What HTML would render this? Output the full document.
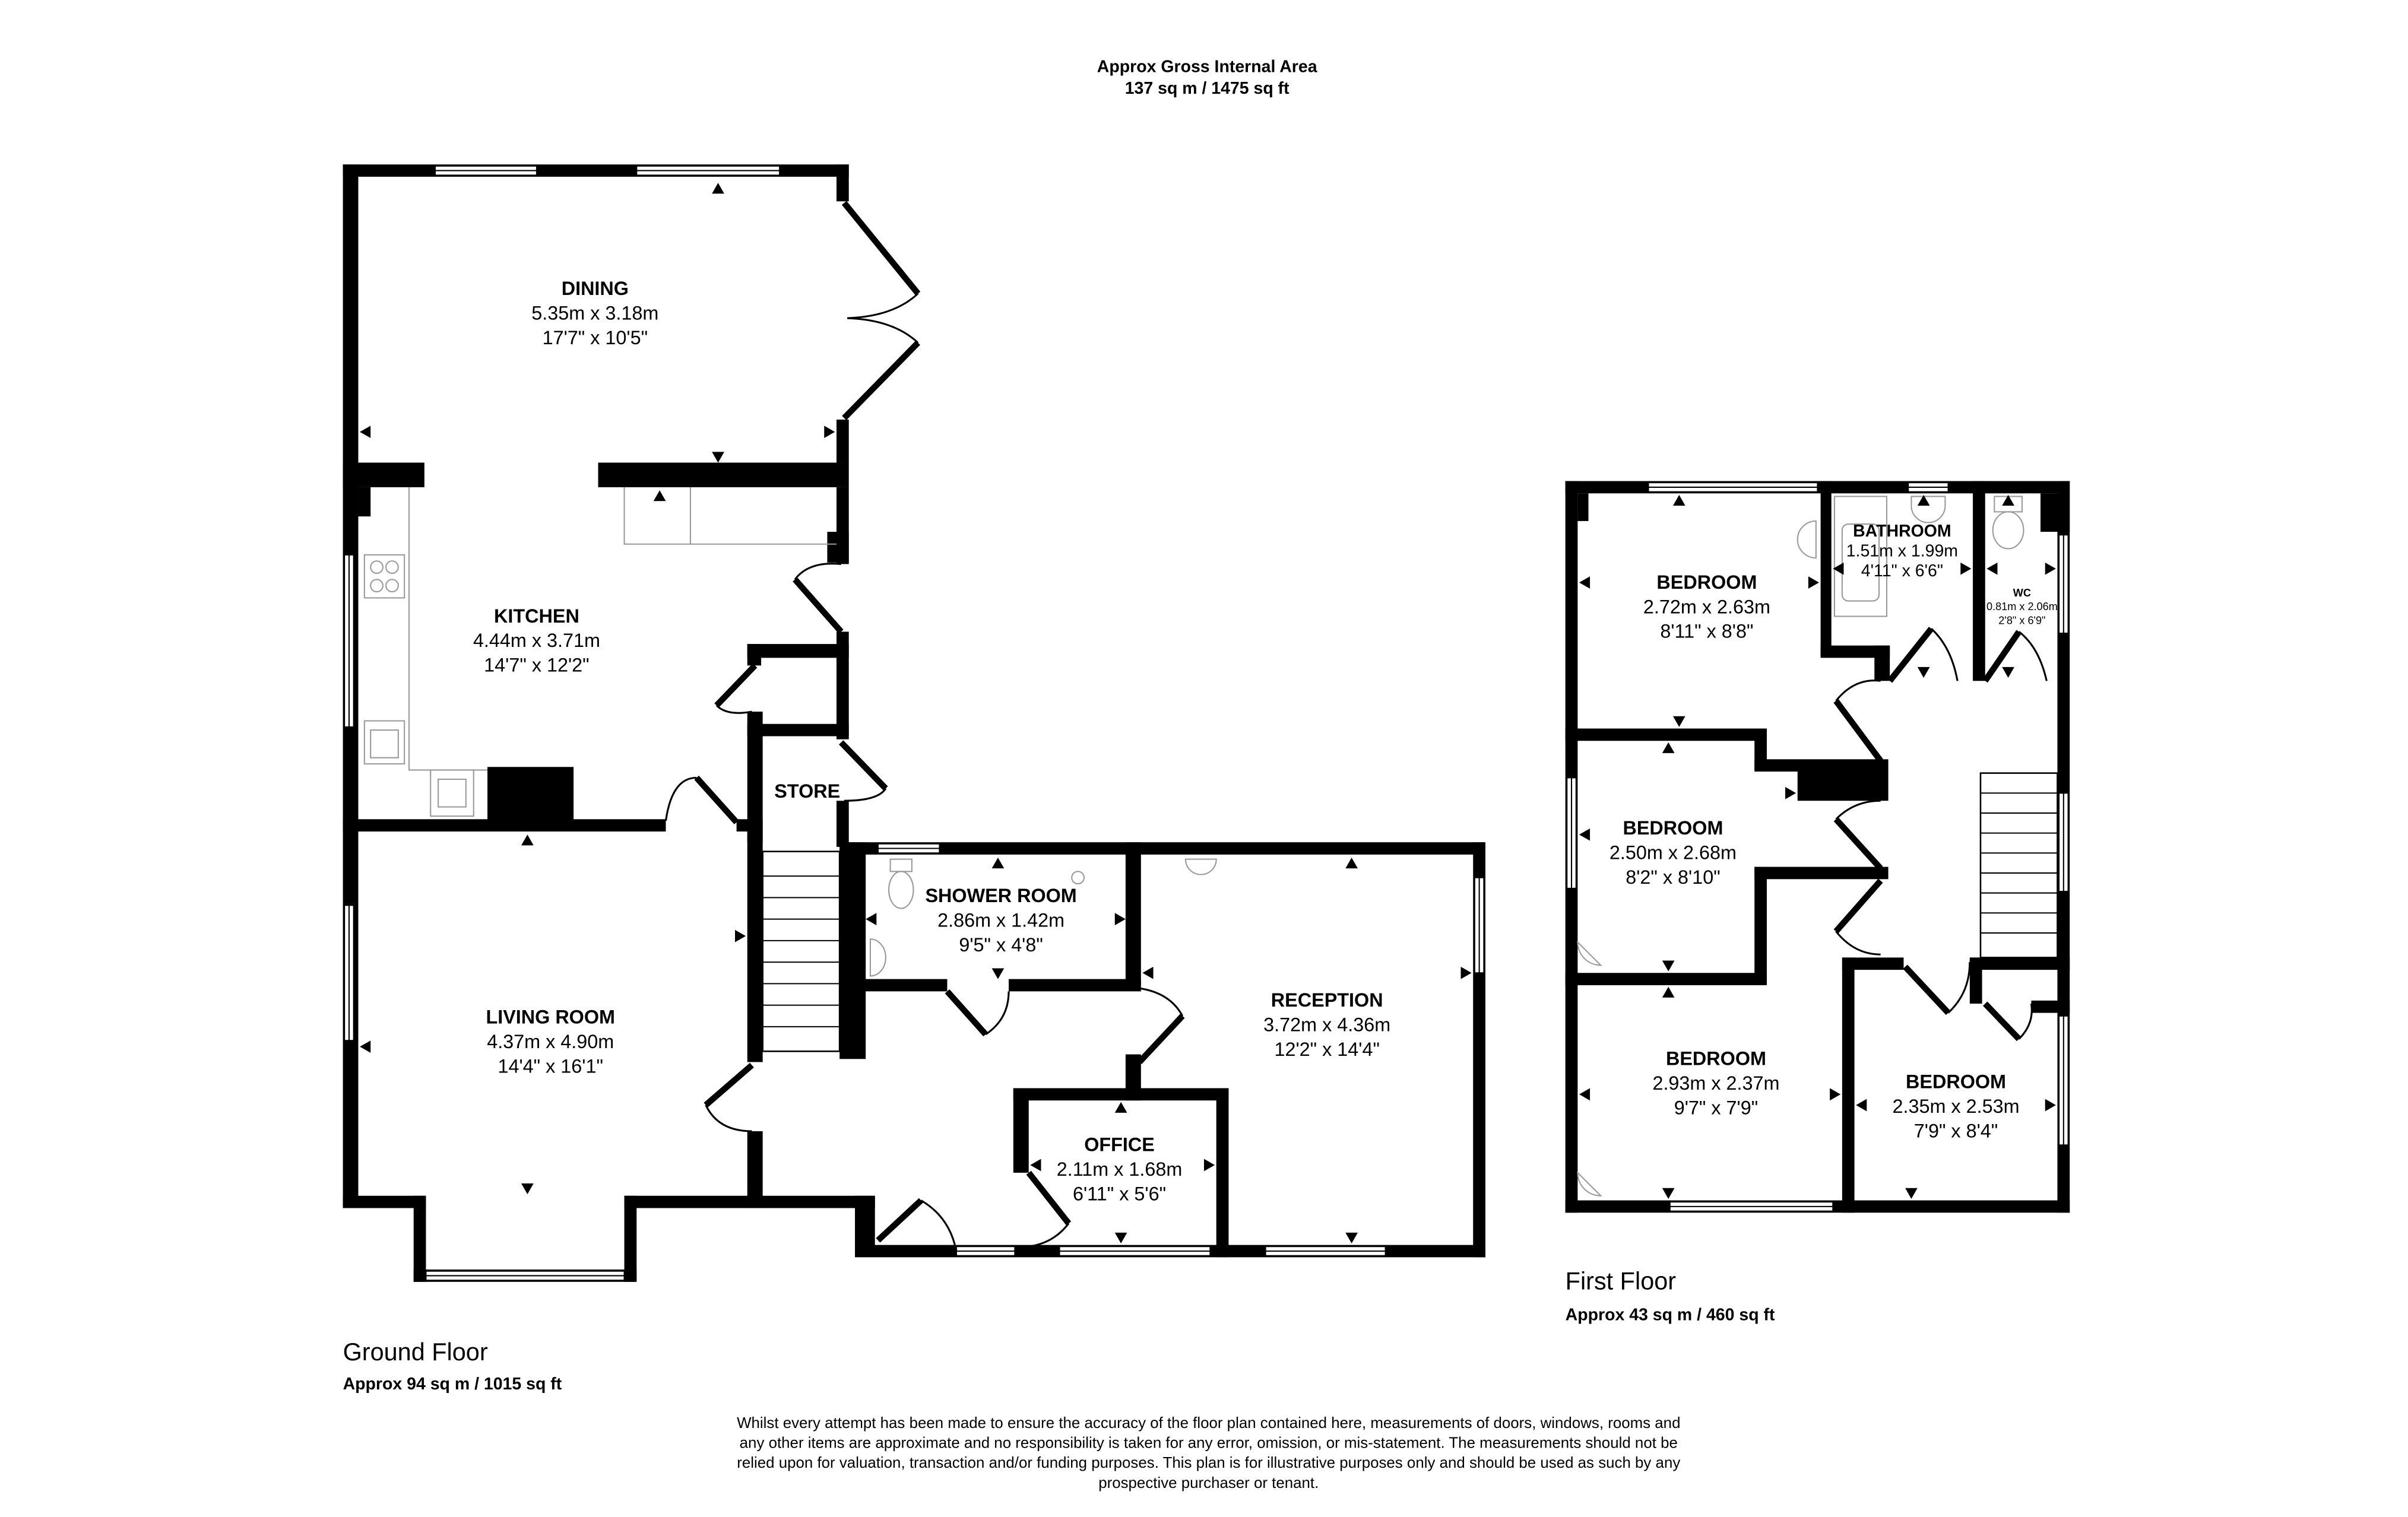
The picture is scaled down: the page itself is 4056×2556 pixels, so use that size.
<!DOCTYPE html>
<html><head><meta charset="utf-8"><style>
html,body{margin:0;padding:0;background:#fff;}
svg{display:block;}
text{font-family:"Liberation Sans",Arial,sans-serif;fill:#000;}
.t{font-weight:bold;font-size:12.5px;text-anchor:middle;}
.d{font-size:12.5px;text-anchor:middle;}
.s{font-size:10px;text-anchor:middle;}
.w{fill:#fff;stroke:#000;stroke-width:0.8;}
.f{fill:none;stroke:#999;stroke-width:0.8;}
.arc{fill:none;stroke:#000;stroke-width:1.2;}
.leaf{stroke:#000;stroke-width:4;}
</style></head><body>
<svg width="4056" height="2556" viewBox="-1 -1 1566 987" preserveAspectRatio="none" xmlns="http://www.w3.org/2000/svg">
<rect x="-1" y="-1" width="1568" height="990" fill="#fff"/>
<text x="784" y="46" style="font-weight:bold;font-size:11px;text-anchor:middle">Approx Gross Internal Area</text>
<text x="784" y="60" style="font-weight:bold;font-size:11px;text-anchor:middle">137 sq m / 1475 sq ft</text>

<g fill="#000">
<rect x="222" y="106" width="329" height="8"/>
<rect x="222" y="106" width="10" height="679"/>
<rect x="543" y="106" width="8" height="24"/>
<rect x="543" y="272" width="8" height="28"/>
<rect x="222" y="300" width="53" height="16"/>
<rect x="388" y="300" width="163" height="16"/>
<rect x="232" y="316" width="8" height="19"/>
<rect x="543" y="316" width="8" height="50"/>
<rect x="537" y="345" width="14" height="20"/>
<rect x="543" y="410" width="8" height="70"/>
<rect x="485" y="418" width="66" height="9"/>
<rect x="485" y="418" width="9" height="14"/>
<rect x="485" y="462" width="10" height="85"/>
<rect x="485" y="470" width="66" height="8"/>
<rect x="543" y="520" width="8" height="30"/>
<rect x="222" y="532" width="210" height="8"/>
<rect x="478" y="532" width="17" height="8"/>
<rect x="316" y="498" width="56" height="37"/>
<rect x="222" y="777" width="54" height="8"/>
<rect x="268" y="777" width="8" height="56"/>
<rect x="268" y="825" width="145" height="8"/>
<rect x="405" y="777" width="8" height="56"/>
<rect x="405" y="777" width="90" height="8"/>
<rect x="485" y="540" width="10" height="150"/>
<rect x="485" y="735" width="10" height="50"/>
<rect x="545" y="547" width="17" height="141"/>
<rect x="545" y="547" width="420" height="8"/>
<rect x="485" y="777" width="83" height="8"/>
<rect x="555" y="777" width="13" height="33"/>
<rect x="555" y="809" width="410" height="8"/>
<rect x="731" y="547" width="10" height="93"/>
<rect x="731" y="685" width="10" height="30"/>
<rect x="658" y="707" width="140" height="8"/>
<rect x="658" y="707" width="10" height="55"/>
<rect x="790" y="707" width="8" height="110"/>
<rect x="560" y="636" width="55" height="8"/>
<rect x="655" y="636" width="86" height="8"/>
<rect x="957" y="547" width="8" height="270"/>
</g>
<rect class="w" x="282" y="107" width="66" height="6"/><line x1="282" y1="110" x2="348" y2="110" stroke="#000" stroke-width="0.8"/>
<rect class="w" x="413" y="107" width="93" height="6"/><line x1="413" y1="110" x2="506" y2="110" stroke="#000" stroke-width="0.8"/>
<rect class="w" x="223" y="360" width="6" height="112"/><line x1="226" y1="360" x2="226" y2="472" stroke="#000" stroke-width="0.8"/>
<rect class="w" x="223" y="588" width="6" height="88"/><line x1="226" y1="588" x2="226" y2="676" stroke="#000" stroke-width="0.8"/>
<rect class="w" x="276" y="826" width="129" height="6"/><line x1="276" y1="829" x2="405" y2="829" stroke="#000" stroke-width="0.8"/>
<rect class="w" x="570" y="548" width="40" height="6"/><line x1="570" y1="551" x2="610" y2="551" stroke="#000" stroke-width="0.8"/>
<rect class="w" x="958" y="570" width="6" height="62"/><line x1="961" y1="570" x2="961" y2="632" stroke="#000" stroke-width="0.8"/>
<rect class="w" x="621" y="810" width="38" height="6"/><line x1="621" y1="813" x2="659" y2="813" stroke="#000" stroke-width="0.8"/>
<rect class="w" x="688" y="810" width="98" height="6"/><line x1="688" y1="813" x2="786" y2="813" stroke="#000" stroke-width="0.8"/>
<rect class="w" x="822" y="810" width="78" height="6"/><line x1="822" y1="813" x2="900" y2="813" stroke="#000" stroke-width="0.8"/>

<line class="leaf" x1="548" y1="131" x2="596" y2="190"/>
<line class="leaf" x1="548" y1="271" x2="596" y2="222"/>
<path class="arc" d="M596 190 Q580 205 550 206 Q580 207 596 222"/>
<line class="leaf" x1="546" y1="410" x2="516" y2="376"/>
<path class="arc" d="M516 376 Q525 364 546 366"/>
<line class="leaf" x1="490" y1="432" x2="465" y2="458"/>
<path class="arc" d="M465 458 Q472 465 488 462"/>
<line class="leaf" x1="546" y1="482" x2="575" y2="512"/>
<path class="arc" d="M575 512 Q570 520 548 520"/>
<path class="arc" d="M432 533 Q436 505 452 505"/>
<line class="leaf" x1="452" y1="505" x2="478" y2="534"/>
<line class="leaf" x1="488" y1="692" x2="458" y2="718"/>
<path class="arc" d="M458 718 Q466 735 488 735"/>
<line class="leaf" x1="615" y1="644" x2="640" y2="672"/>
<path class="arc" d="M640 672 Q655 662 655 644"/>
<line class="leaf" x1="740" y1="690" x2="768" y2="660"/>
<path class="arc" d="M740 642 Q760 645 768 660"/>
<line class="leaf" x1="668" y1="762" x2="694" y2="795"/>
<path class="arc" d="M694 795 Q684 808 668 810"/>
<line class="leaf" x1="570" y1="806" x2="598" y2="780"/>
<path class="arc" d="M598 780 Q615 790 620 809"/>

<rect x="495" y="553" width="50" height="130" fill="none" stroke="#000" stroke-width="1"/>
<g stroke="#000" stroke-width="0.8">
<line x1="495" y1="569" x2="545" y2="569"/><line x1="495" y1="583" x2="545" y2="583"/><line x1="495" y1="597" x2="545" y2="597"/><line x1="495" y1="611" x2="545" y2="611"/><line x1="495" y1="625" x2="545" y2="625"/><line x1="495" y1="639" x2="545" y2="639"/><line x1="495" y1="653" x2="545" y2="653"/><line x1="495" y1="667" x2="545" y2="667"/>
</g>

<g class="f">
<path d="M265 316 V500 H316"/><path d="M405 316 V353 H543"/><line x1="448" y1="316" x2="448" y2="353"/>
<rect x="236" y="360" width="26" height="28"/><circle cx="244" cy="368" r="4"/><circle cx="254" cy="368" r="4"/><circle cx="244" cy="380" r="4"/><circle cx="254" cy="380" r="4"/>
<rect x="236" y="468" width="26" height="28"/><rect x="240" y="474" width="18" height="18"/>
<rect x="279" y="500" width="28" height="30"/><rect x="284" y="506" width="18" height="18"/>
<ellipse cx="585" cy="578" rx="8" ry="12"/><rect x="578" y="558" width="14" height="8"/>
<path d="M565 610 a10 12 0 0 1 0 24 z"/>
<path d="M770 558 h20 a10 10 0 0 1 -20 0z"/>
<circle cx="700" cy="570" r="4"/>
</g>

<g fill="#000">
<polygon points="466,118 462,125 470,125"/><polygon points="466,300 462,293 470,293"/>
<polygon points="233,280 240,276 240,284"/><polygon points="542,280 535,276 535,284"/>
<polygon points="428,318 424,325 432,325"/><polygon points="342,542 338,549 346,549"/>
<polygon points="233,680 240,676 240,684"/><polygon points="484,608 477,604 477,612"/>
<polygon points="342,776 338,769 346,769"/>
<polygon points="648,557 644,564 652,564"/><polygon points="648,636 644,629 652,629"/>
<polygon points="562,597 569,593 569,601"/><polygon points="731,597 724,593 724,601"/>
<polygon points="878,557 874,564 882,564"/><polygon points="878,808 874,801 882,801"/>
<polygon points="742,632 749,628 749,636"/><polygon points="956,632 949,628 949,636"/>
<polygon points="728,716 724,723 732,723"/><polygon points="728,808 724,801 732,801"/>
<polygon points="669,757 676,753 676,761"/><polygon points="789,757 782,753 782,761"/>
</g>

<text class="t" x="386" y="191">DINING</text><text class="d" x="386" y="207">5.35m x 3.18m</text><text class="d" x="386" y="223">17'7" x 10'5"</text>
<text class="t" x="348" y="404">KITCHEN</text><text class="d" x="348" y="420">4.44m x 3.71m</text><text class="d" x="348" y="436">14'7" x 12'2"</text>
<text class="t" x="524" y="518">STORE</text>
<text class="t" x="357" y="665">LIVING ROOM</text><text class="d" x="357" y="681">4.37m x 4.90m</text><text class="d" x="357" y="697">14'4" x 16'1"</text>
<text class="t" x="650" y="586">SHOWER ROOM</text><text class="d" x="650" y="602">2.86m x 1.42m</text><text class="d" x="650" y="618">9'5" x 4'8"</text>
<text class="t" x="862" y="654">RECEPTION</text><text class="d" x="862" y="670">3.72m x 4.36m</text><text class="d" x="862" y="686">12'2" x 14'4"</text>
<text class="t" x="727" y="748">OFFICE</text><text class="d" x="727" y="764">2.11m x 1.68m</text><text class="d" x="727" y="780">6'11" x 5'6"</text>

<g fill="#000">
<rect x="1017" y="312" width="328" height="8"/>
<rect x="1017" y="312" width="8" height="476"/>
<rect x="1017" y="780" width="328" height="8"/>
<rect x="1337" y="312" width="8" height="476"/>
<rect x="1326" y="320" width="19" height="25"/>
<rect x="1025" y="320" width="7" height="18"/>
<rect x="1183" y="312" width="7" height="114"/>
<rect x="1183" y="419" width="45" height="8"/>
<rect x="1218" y="419" width="10" height="23"/>
<rect x="1282" y="312" width="8" height="130"/>
<rect x="1017" y="473" width="131" height="8"/>
<rect x="1140" y="473" width="8" height="27"/>
<rect x="1140" y="493" width="87" height="8"/>
<rect x="1168" y="500" width="59" height="20"/>
<rect x="1140" y="563" width="87" height="8"/>
<rect x="1140" y="563" width="8" height="77"/>
<rect x="1017" y="632" width="131" height="8"/>
<rect x="1197" y="622" width="8" height="166"/>
<rect x="1197" y="622" width="40" height="8"/>
<rect x="1280" y="622" width="65" height="8"/>
<rect x="1280" y="622" width="8" height="30"/>
<rect x="1320" y="650" width="25" height="8"/>
</g>
<rect class="w" x="1071" y="313" width="110" height="6"/><line x1="1071" y1="316" x2="1181" y2="316" stroke="#000" stroke-width="0.8"/>
<rect class="w" x="1240" y="313" width="26" height="6"/><line x1="1240" y1="316" x2="1266" y2="316" stroke="#000" stroke-width="0.8"/>
<rect class="w" x="1338" y="347" width="6" height="64"/><line x1="1341" y1="347" x2="1341" y2="411" stroke="#000" stroke-width="0.8"/>
<rect class="w" x="1338" y="515" width="6" height="64"/><line x1="1341" y1="515" x2="1341" y2="579" stroke="#000" stroke-width="0.8"/>
<rect class="w" x="1338" y="660" width="6" height="84"/><line x1="1341" y1="660" x2="1341" y2="744" stroke="#000" stroke-width="0.8"/>
<rect class="w" x="1018" y="505" width="6" height="72"/><line x1="1021" y1="505" x2="1021" y2="577" stroke="#000" stroke-width="0.8"/>
<rect class="w" x="1085" y="781" width="106" height="6"/><line x1="1085" y1="784" x2="1191" y2="784" stroke="#000" stroke-width="0.8"/>

<line class="leaf" x1="1228" y1="442" x2="1255" y2="408"/><path class="arc" d="M1255 408 Q1268 420 1272 442"/>
<line class="leaf" x1="1290" y1="442" x2="1312" y2="410"/><path class="arc" d="M1312 410 Q1325 420 1330 442"/>
<line class="leaf" x1="1222" y1="494" x2="1193" y2="455"/><path class="arc" d="M1193 455 Q1205 440 1222 442"/>
<line class="leaf" x1="1222" y1="564" x2="1193" y2="532"/><path class="arc" d="M1193 532 Q1205 520 1222 520"/>
<line class="leaf" x1="1222" y1="572" x2="1193" y2="605"/><path class="arc" d="M1193 605 Q1205 620 1222 620"/>
<line class="leaf" x1="1238" y1="628" x2="1266" y2="658"/><path class="arc" d="M1266 658 Q1280 645 1280 625"/>
<line class="leaf" x1="1290" y1="652" x2="1312" y2="675"/><path class="arc" d="M1312 675 Q1322 665 1320 652"/>
<rect x="1287" y="502" width="50" height="120" fill="none" stroke="#000" stroke-width="1"/>
<g stroke="#000" stroke-width="0.8">
<line x1="1287" y1="515" x2="1337" y2="515"/><line x1="1287" y1="528" x2="1337" y2="528"/><line x1="1287" y1="541" x2="1337" y2="541"/><line x1="1287" y1="554" x2="1337" y2="554"/><line x1="1287" y1="567" x2="1337" y2="567"/><line x1="1287" y1="580" x2="1337" y2="580"/><line x1="1287" y1="593" x2="1337" y2="593"/><line x1="1287" y1="606" x2="1337" y2="606"/>
</g>
<g class="f">
<rect x="1192" y="322" width="34" height="78"/><rect x="1197" y="340" width="24" height="50" rx="4"/>
<path d="M1242 322 h22 v6 a11 11 0 0 1 -22 0z"/>
<ellipse cx="1305" cy="344" rx="10" ry="12"/><rect x="1296" y="322" width="18" height="10"/>
<path d="M1180 338 a12 12 0 0 0 0 24 z"/>
<path d="M1025 612 a15 15 0 0 0 15 15 z"/><path d="M1025 762 a15 15 0 0 0 15 15 z"/>
</g>
<g fill="#000">
<polygon points="1091,321 1087,328 1095,328"/><polygon points="1091,472 1087,465 1095,465"/>
<polygon points="1026,378 1033,374 1033,382"/><polygon points="1182,378 1175,374 1175,382"/>
<polygon points="1084,482 1080,489 1088,489"/><polygon points="1084,631 1080,624 1088,624"/>
<polygon points="1026,542 1033,538 1033,546"/><polygon points="1167,515 1160,511 1160,519"/>
<polygon points="1084,641 1080,648 1088,648"/><polygon points="1084,779 1080,772 1088,772"/>
<polygon points="1026,711 1033,707 1033,715"/><polygon points="1196,711 1189,707 1189,715"/>
<polygon points="1206,718 1213,714 1213,722"/><polygon points="1336,718 1329,714 1329,722"/>
<polygon points="1242,779 1238,772 1246,772"/>
<polygon points="1250,321 1246,328 1254,328"/><polygon points="1250,440 1246,433 1254,433"/>
<polygon points="1191,369 1198,365 1198,373"/><polygon points="1281,369 1274,365 1274,373"/>
<polygon points="1305,321 1301,328 1309,328"/><polygon points="1305,440 1301,433 1309,433"/>
<polygon points="1291,369 1298,365 1298,373"/><polygon points="1336,369 1329,365 1329,373"/>
</g>
<text class="t" x="1109" y="382">BEDROOM</text><text class="d" x="1109" y="398">2.72m x 2.63m</text><text class="d" x="1109" y="414">8'11" x 8'8"</text>
<text x="1236" y="348" style="font-weight:bold;font-size:11px;text-anchor:middle">BATHROOM</text><text x="1236" y="361" style="font-size:11px;text-anchor:middle">1.51m x 1.99m</text><text x="1236" y="374" style="font-size:11px;text-anchor:middle">4'11" x 6'6"</text>
<text x="1314" y="387" style="font-weight:bold;font-size:7px;text-anchor:middle">WC</text><text x="1314" y="396" style="font-size:7px;text-anchor:middle">0.81m x 2.06m</text><text x="1314" y="405" style="font-size:7px;text-anchor:middle">2'8" x 6'9"</text>
<text class="t" x="1087" y="542">BEDROOM</text><text class="d" x="1087" y="558">2.50m x 2.68m</text><text class="d" x="1087" y="574">8'2" x 8'10"</text>
<text class="t" x="1115" y="692">BEDROOM</text><text class="d" x="1115" y="708">2.93m x 2.37m</text><text class="d" x="1115" y="724">9'7" x 7'9"</text>
<text class="t" x="1271" y="707">BEDROOM</text><text class="d" x="1271" y="723">2.35m x 2.53m</text><text class="d" x="1271" y="739">7'9" x 8'4"</text>

<text x="1017" y="838" style="font-size:16px">First Floor</text>
<text x="1017" y="858" style="font-weight:bold;font-size:11px">Approx 43 sq m / 460 sq ft</text>
<text x="222" y="884" style="font-size:16px">Ground Floor</text>
<text x="222" y="903" style="font-weight:bold;font-size:11px">Approx 94 sq m / 1015 sq ft</text>

<text class="s" x="785" y="928">Whilst every attempt has been made to ensure the accuracy of the floor plan contained here, measurements of doors, windows, rooms and</text>
<text class="s" x="785" y="941">any other items are approximate and no responsibility is taken for any error, omission, or mis-statement. The measurements should not be</text>
<text class="s" x="785" y="954">relied upon for valuation, transaction and/or funding purposes. This plan is for illustrative purposes only and should be used as such by any</text>
<text class="s" x="785" y="967">prospective purchaser or tenant.</text>
</svg>
</body></html>
